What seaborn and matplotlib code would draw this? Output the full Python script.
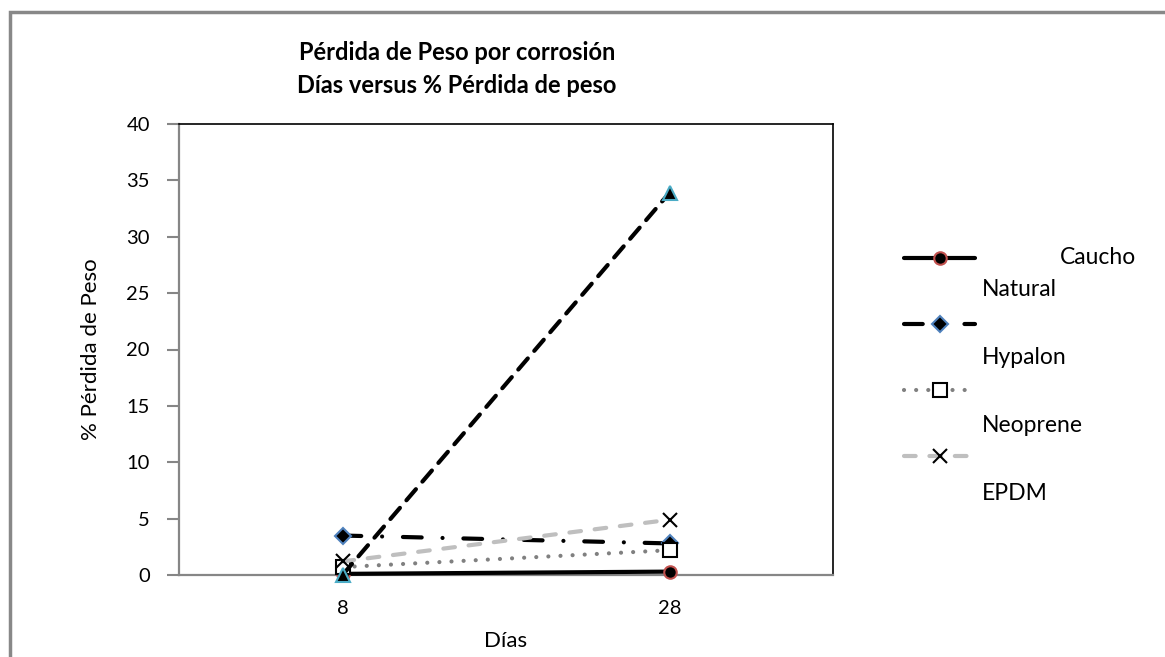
import matplotlib
matplotlib.use("Agg")
import matplotlib.pyplot as plt
from matplotlib.lines import Line2D
from matplotlib.patches import Rectangle
import seaborn as sns

# ---- data -------------------------------------------------------------
days = ["8", "28"]
caucho_natural = [0.1, 0.3]
hypalon = [3.5, 2.8]
neoprene = [0.7, 2.2]
epdm = [1.2, 4.9]
serie_5 = [0.0, 33.9]
y_ticks = [0, 5, 10, 15, 20, 25, 30, 35, 40]

# ---- styles -----------------------------------------------------------
LW = 3.0
styles = {
    "Caucho Natural": dict(color="black", linestyle="-", marker="o", markersize=9,
                           markerfacecolor="black", markeredgecolor="#c0504d", markeredgewidth=1.5),
    "Hypalon": dict(color="black", linestyle=(0, (4.5, 5.0, 0.01, 5.0)), marker="D", markersize=8,
                    markerfacecolor="black", markeredgecolor="#4f81bd", markeredgewidth=1.5),
    "Neoprene": dict(color="#808080", linestyle=(0, (0.01, 2.9)), marker="s", markersize=10,
                     markerfacecolor="white", markeredgecolor="black", markeredgewidth=1.5),
    "EPDM": dict(color="#bfbfbf", linestyle=(0, (2.8, 3.3)), marker="x", markersize=10,
                 markeredgecolor="black", markeredgewidth=1.5),
}
style_5 = dict(color="black", linestyle=(0, (3.5, 2.4)), marker="^", markersize=10,
               markerfacecolor="black", markeredgecolor="#4bacc6", markeredgewidth=1.5)

sns.set_theme(style="white")
plt.rcParams["font.family"] = ["Lato", "DejaVu Sans"]

W, H = 1165, 657
fig = plt.figure(figsize=(W / 100, H / 100), dpi=100)
ax = fig.add_axes([179 / W, 1 - 575 / H, (833 - 179) / W, (575 - 124) / H])

series = [
    ("Caucho Natural", caucho_natural),
    ("Hypalon", hypalon),
    ("Neoprene", neoprene),
    ("EPDM", epdm),
]
for name, vals in series:
    sns.lineplot(x=days, y=vals, ax=ax, sort=False, linewidth=LW,
                 solid_capstyle="round", dash_capstyle="round",
                 clip_on=False, zorder=3, **styles[name])
sns.lineplot(x=days, y=serie_5, ax=ax, sort=False, linewidth=LW,
             dash_capstyle="round", clip_on=False, zorder=4, **style_5)

# ---- axes -------------------------------------------------------------
ax.set_xlim(-0.5, 1.5)
ax.set_ylim(0, 40)
ax.set_yticks(y_ticks)
ax.set_yticklabels([str(t) for t in y_ticks])
ax.tick_params(axis="y", which="major", length=9, width=1.5, color="#868686",
               direction="out", left=True, pad=12, labelsize=14.5, labelcolor="black")
ax.tick_params(axis="x", length=0, pad=18, labelsize=14.5, labelcolor="black")

for side in ("left", "bottom"):
    ax.spines[side].set_color("#868686")
    ax.spines[side].set_linewidth(1.6)
for side in ("top", "right"):
    ax.spines[side].set_color("black")
    ax.spines[side].set_linewidth(1.2)

ax.set_xlabel("Días", fontsize=16, color="black")
ax.set_ylabel("% Pérdida de Peso", fontsize=16, color="black")
ax.xaxis.set_label_coords(0.5, -0.125)
ax.yaxis.set_label_coords(-0.12, 0.5)

# ---- title ------------------------------------------------------------
fig.text(457 / W, 1 - 60 / H, "Pérdida de Peso por corrosión", ha="center", va="baseline",
         fontsize=17, fontweight="bold", color="black")
fig.text(457 / W, 1 - 93 / H, "Días versus % Pérdida de peso", ha="center", va="baseline",
         fontsize=17, fontweight="bold", color="black")

# ---- legend -----------------------------------------------------------
handles = []
for name, _ in series:
    st = styles[name]
    handles.append(Line2D([], [], linewidth=LW, solid_capstyle="round",
                          dash_capstyle="round", **st))
leg = ax.legend(handles, [""] * len(handles), loc="center left",
                bbox_to_anchor=(904 / W, 1 - 359 / H), bbox_transform=fig.transFigure,
                frameon=False, fontsize=15.8, handlelength=3.24, handletextpad=0.3,
                borderpad=0, borderaxespad=0, labelspacing=2.1, numpoints=1)

legend_text = [
    (1060, 257, "Caucho"),
    (982, 289, "Natural"),
    (982, 357, "Hypalon"),
    (982, 425, "Neoprene"),
    (982, 493, "EPDM"),
]
for x, y, t in legend_text:
    fig.text(x / W, 1 - y / H, t, ha="left", va="center", fontsize=16.5, color="black")

# ---- outer chart frame --------------------------------------------------
fig.patches.append(Rectangle((9.5 / W, -0.2), 1.2, 1.2 - 11.5 / H,
                             transform=fig.transFigure, fill=False,
                             edgecolor="#888888", linewidth=2.5, figure=fig))

fig.savefig("out.png", dpi=100, facecolor="white")
